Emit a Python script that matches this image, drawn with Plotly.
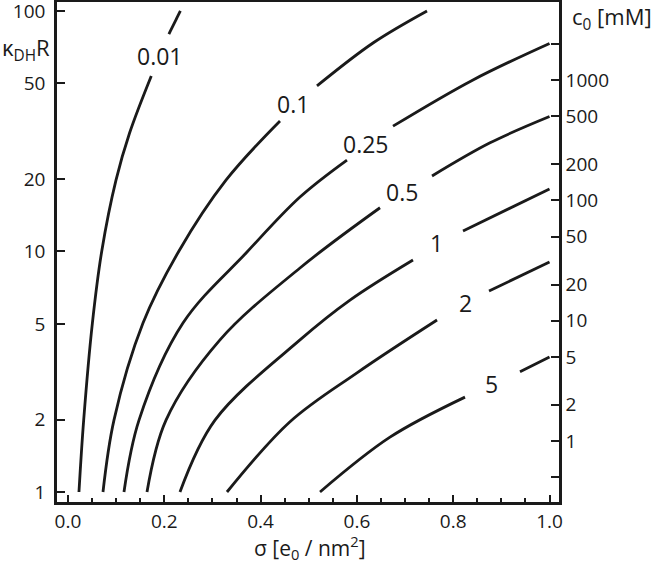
import numpy as np
import plotly.graph_objects as go

# ---- data (sigma [e0/nm^2], kappa_DH R) ----
levels = ["0.01", "0.1", "0.25", "0.5", "1", "2", "5"]

# lower segment (below the inline label) and upper segment (above it)
s001_lo = [0.0228, 0.0326, 0.0507, 0.0702, 0.0997, 0.1279, 0.1730]
k001_lo = [1.0, 1.99, 5.04, 10.05, 19.8, 31.1, 53.7]
s001_up = [0.2095, 0.2334]
k001_up = [80.2, 100.0]

s01_lo = [0.0727, 0.0955, 0.1558, 0.2305, 0.3281, 0.4403]
k01_lo = [1.0, 1.99, 5.04, 10.05, 19.8, 34.9]
s01_up = [0.5171, 0.6334, 0.7456]
k01_up = [48.8, 73.6, 100.0]

s025_lo = [0.1163, 0.1475, 0.2388, 0.3718, 0.4818, 0.5794]
k025_lo = [1.0, 1.99, 5.04, 9.95, 16.85, 24.0]
s025_up = [0.675, 0.8411, 1.0]
k025_up = [33.2, 51.7, 73.3]

s05_lo = [0.1641, 0.2036, 0.3157, 0.4818, 0.6480]
k05_lo = [1.0, 1.99, 4.29, 8.54, 15.2]
s05_up = [0.7560, 0.8765, 1.0]
k05_up = [20.6, 28.3, 36.4]

s1_lo = [0.2326, 0.3053, 0.4818, 0.5857, 0.7165]
k1_lo = [1.0, 1.99, 4.29, 6.28, 9.22]
s1_up = [0.8204, 1.0]
k1_up = [12.17, 18.2]

s2_lo = [0.3302, 0.4611, 0.6002, 0.7664]
k2_lo = [1.0, 1.96, 3.13, 5.19]
s2_up = [0.8744, 1.0]
k2_up = [6.85, 9.04]

s5_lo = [0.5234, 0.6687, 0.8245]
k5_lo = [1.0, 1.69, 2.48]
s5_up = [0.9387, 1.0]
k5_up = [3.16, 3.64]

# inline label positions (sigma, kappa R)
label_s = [0.191, 0.467, 0.618, 0.693, 0.766, 0.8245, 0.880]
label_k = [65.0, 40.9, 28.0, 17.7, 10.85, 6.1, 2.81]

# axis ticks
x_ticks = [0.0, 0.2, 0.4, 0.6, 0.8, 1.0]
kR_ticks = [1, 2, 5, 10, 20, 50, 100]
c0_ticks = [0.5, 1, 2, 5, 10, 20, 50, 100, 200, 500, 1000, 2000]
c0_ticktext = ["", "1", "2", "5", "10", "20", "50", "100", "200", "500", "1000", ""]

segments = [
    (s001_lo, k001_lo, s001_up, k001_up),
    (s01_lo, k01_lo, s01_up, k01_up),
    (s025_lo, k025_lo, s025_up, k025_up),
    (s05_lo, k05_lo, s05_up, k05_up),
    (s1_lo, k1_lo, s1_up, k1_up),
    (s2_lo, k2_lo, s2_up, k2_up),
    (s5_lo, k5_lo, s5_up, k5_up),
]

FONT = "Open Sans"
INK = "#1a1a1a"

fig = go.Figure()
for name, (slo, klo, sup, kup) in zip(levels, segments):
    fig.add_trace(go.Scatter(
        x=list(slo) + [None] + list(sup),
        y=list(klo) + [None] + list(kup),
        mode="lines", line=dict(color=INK, width=2.8, shape="spline", smoothing=1.0),
        connectgaps=False, showlegend=False, hoverinfo="skip", name=name,
    ))

# invisible trace so the right-hand concentration axis is drawn
fig.add_trace(go.Scatter(x=[0.5], y=[10], yaxis="y2", mode="markers",
                         marker=dict(opacity=0), showlegend=False, hoverinfo="skip"))

for txt, s, k in zip(levels, label_s, label_k):
    fig.add_annotation(x=s, y=np.log10(k), xref="x", yref="y", text=txt,
                       showarrow=False, font=dict(family=FONT, size=23, color=INK),
                       xanchor="center", yanchor="middle")

fig.add_annotation(x=-0.1135, y=0.905, xref="paper", yref="paper",
                   text="κ<sub>DH</sub>R", showarrow=False, xanchor="left", yanchor="middle",
                   font=dict(family=FONT, size=22, color=INK))
fig.add_annotation(x=1.022, y=0.968, xref="paper", yref="paper",
                   text="c<sub>0</sub> [mM]", showarrow=False, xanchor="left", yanchor="middle",
                   font=dict(family=FONT, size=22, color=INK))
fig.add_annotation(x=0.504, y=-0.09, xref="paper", yref="paper",
                   text="σ [e<sub>0</sub> / nm<sup>2</sup>]", showarrow=False,
                   xanchor="center", yanchor="middle",
                   font=dict(family=FONT, size=21, color=INK))

axis_common = dict(showgrid=False, zeroline=False, showline=True, linecolor=INK,
                   linewidth=2.5, ticks="inside", tickcolor=INK, tickwidth=2,
                   automargin=False, ticklabeloverflow="allow",
                   tickfont=dict(family=FONT, size=19, color=INK))

fig.update_layout(
    width=660, height=561,
    margin=dict(l=57, r=101, t=2, b=59),
    paper_bgcolor="white", plot_bgcolor="white",
    xaxis=dict(range=[-0.0228, 1.0197], tickvals=x_ticks, ticktext=[f"{v:.1f}" for v in x_ticks],
               ticklen=7, mirror=True,
               minor=dict(dtick=0.05, tick0=0, ticks="inside", ticklen=4, tickwidth=2,
                          tickcolor=INK, showgrid=False),
               **axis_common),
    yaxis=dict(type="log", range=[-0.0416, 2.0374], tickvals=kR_ticks,
               ticktext=[str(v) for v in kR_ticks], ticklen=8, ticklabelstandoff=5,
               **axis_common),
    yaxis2=dict(type="log", range=[-0.5074, 3.6506], overlaying="y", side="right",
                tickvals=c0_ticks, ticktext=c0_ticktext, ticklen=8, **axis_common),
)

fig.write_html("out.html", config={"displayModeBar": False},
               post_script="document.body.style.margin='0px';")
